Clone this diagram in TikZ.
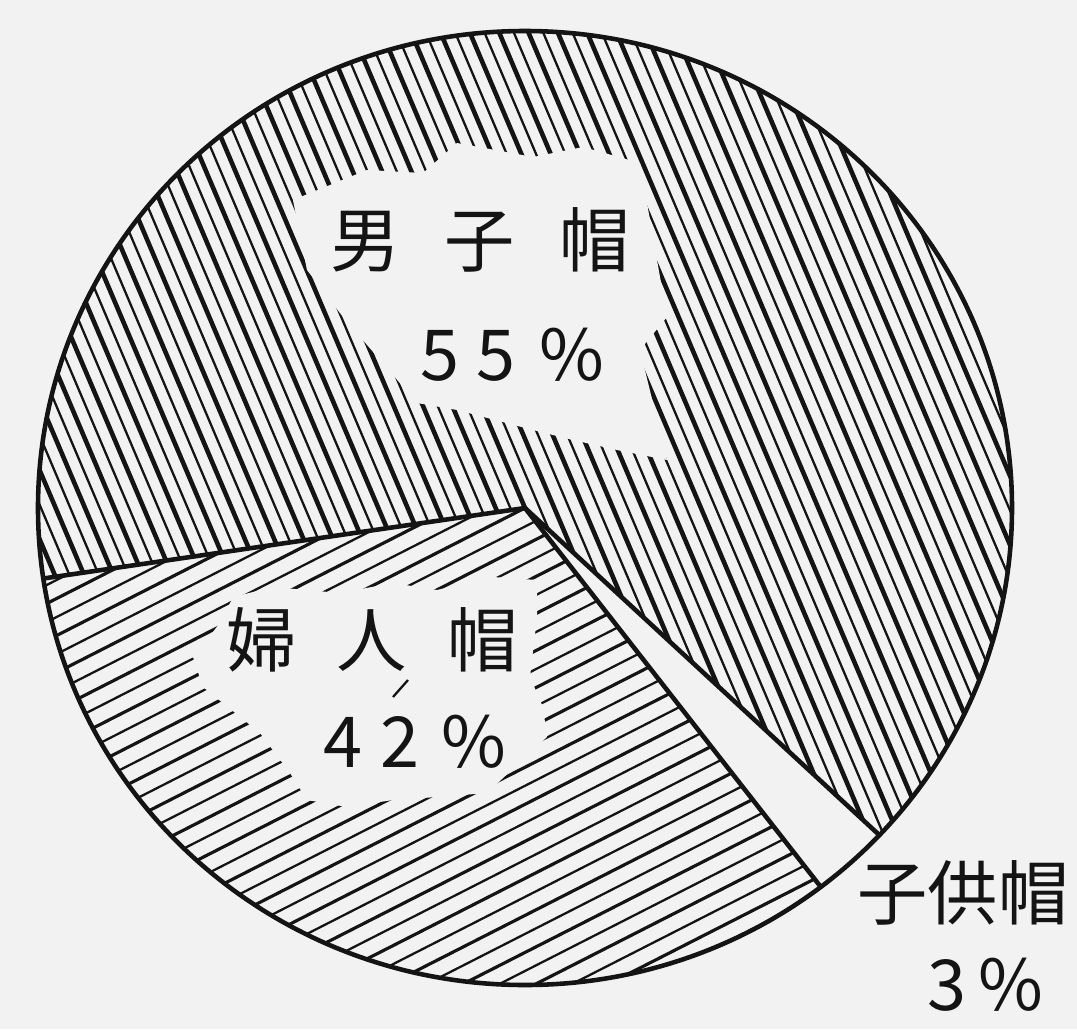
\documentclass[tikz,border=0pt]{standalone}
\usepackage{fontspec}
\newfontfamily\jpfont{Noto Sans CJK JP}
\definecolor{paper}{gray}{0.95}
\definecolor{ink}{gray}{0.08}

\begin{document}
\begin{tikzpicture}[x=0.02cm, y=0.02cm,
    hatchthick/.style={ink, line width=2.6pt},
    hatchthin/.style={ink, line width=1.3pt},
    hatchflat/.style={ink, line width=1.8pt},
    outline/.style={ink, line width=2.6pt, line join=round},
    lbl/.style={ink, font=\jpfont\fontsize{40}{48}\selectfont, inner sep=0pt}]
    \fill[paper] (-525,-521) rectangle (552,508);
    \useasboundingbox (-525,-521) rectangle (552,508);

    % Pie centre and slice edges
    \coordinate (O) at (0,0);
    \coordinate (L) at ({487*cos(188.5)},{477*sin(188.5)});
    \coordinate (R1) at ({487*cos(-43.3)},{477*sin(-43.3)});
    \coordinate (R2) at ({487*cos(-52.6)},{477*sin(-52.6)});

    % Men's hats (steep hatching)
    \begin{scope}
        \clip (O) -- (R1) arc[start angle=-43.3, end angle=188.5, x radius=487, y radius=477] -- cycle;
        \begin{scope}[rotate=-67]
            \foreach \k in {-40,-38,...,40} \draw[hatchthick] (-700,\k*13.5) -- (700,\k*13.5);
            \foreach \k in {-39,-37,...,39} \draw[hatchthin] (-700,\k*13.5) -- (700,\k*13.5);
        \end{scope}
        \fill[paper] (-232,308) -- (-158,338) -- (-102,335) -- (-68,365) -- (8,351) -- (58,361)
            -- (115,345) -- (142,191) -- (115,158) -- (142,48) -- (92,58) -- (48,68) -- (8,78)
            -- (-68,98) -- (-108,105) -- (-182,191) -- (-218,238) -- cycle;
    \end{scope}

    % Women's hats (flat hatching)
    \begin{scope}
        \clip (O) -- (L) arc[start angle=188.5, end angle=307.4, x radius=487, y radius=477] -- cycle;
        \begin{scope}[rotate=27]
            \foreach \k in {-34,-32,...,34} \draw[hatchflat] (-700,\k*16.5) -- (700,\k*16.5);
            \foreach \k in {-33,-31,...,33} \draw[hatchthin] (-700,\k*16.5) -- (700,\k*16.5);
        \end{scope}
        \fill[paper] (-292,-89) -- (-252,-79) -- (-185,-85) -- (-132,-75) -- (-88,-82) -- (-32,-69)
            -- (12,-72) -- (12,-109) -- (5,-169) -- (18,-199) -- (22,-229) -- (-38,-285) -- (-88,-289)
            -- (-132,-292) -- (-178,-299) -- (-218,-292) -- (-235,-265) -- (-265,-225) -- (-322,-179)
            -- (-332,-149) -- (-305,-115) -- cycle;
        \draw[hatchthin] (-132,-189) -- (-117,-172);
    \end{scope}

    % Outline and slice edges
    \draw[outline] (O) ellipse[x radius=487, y radius=477];
    \draw[outline] (L) -- (O) -- (R1);
    \draw[outline] (O) -- (R2);

    % Labels
    \node[lbl] (men) at (-45,268) {男\hspace{0.88cm}子\hspace{0.88cm}帽};
    \node[lbl] (menpct) at (-13,153) {5\hspace{0.34cm}5\hspace{0.48cm}\%};
    \node[lbl] (women) at (-153,-132) {婦\hspace{0.8cm}人\hspace{0.8cm}帽};
    \node[lbl] (womenpct) at (-110,-234) {4\hspace{0.36cm}2\hspace{0.44cm}\%};
    \node[lbl] (kids) at (438,-385) {子供帽};
    \node[lbl] (kidspct) at (460,-477) {3\hspace{0.24cm}\%};
\end{tikzpicture}
\end{document}
